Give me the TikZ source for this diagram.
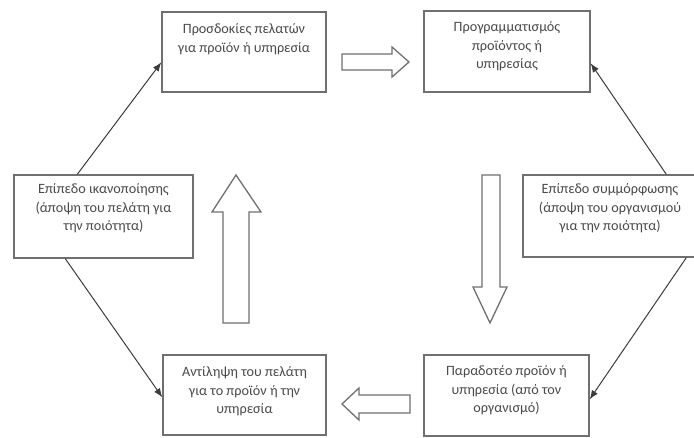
\documentclass[tikz,border=0pt]{standalone}
\usepackage{fontspec}
\setmainfont{Carlito}
\usetikzlibrary{arrows.meta,calc}
\definecolor{boxline}{HTML}{707070}
\definecolor{inktext}{HTML}{4A4A4A}
\definecolor{linkline}{HTML}{3C3C3C}
\tikzset{
  stagebox/.style={draw=boxline, line width=1.4pt, fill=white, inner sep=0pt},
  stagetext/.style={text=inktext, align=center, inner sep=0pt, anchor=north,
    font=\fontsize{14.2}{18.7}\selectfont},
  link/.style={draw=linkline, line width=1pt, -{Latex[length=9pt,width=7pt]}},
  bigarrow/.style={draw=boxline, line width=1.3pt, fill=white, line join=miter},
}
% a fixed first-line height so every caption starts at the same depth
\newcommand\capline{\vphantom{Άλ}}
\begin{document}
\begin{tikzpicture}[x=1pt,y=-1pt]
\useasboundingbox (0,0) rectangle (694,437);

% stage boxes
\node[stagebox, minimum width=164, minimum height=80] (tl) at (244,52) {};
\node[stagebox, minimum width=166, minimum height=81] (tr) at (507,51.5) {};
\node[stagebox, minimum width=179, minimum height=83] (ml) at (103.5,216.5) {};
\node[stagebox, minimum width=174, minimum height=82] (rm) at (610,216) {};
\node[stagebox, minimum width=163, minimum height=80] (bl) at (244.5,395) {};
\node[stagebox, minimum width=165, minimum height=81] (br) at (506.5,395.5) {};

% box captions, placed near the top edge of each box
\node[stagetext] (tl-t) at ($(tl.north)+(0,12)$) {\capline Προσδοκίες πελατών\\για προϊόν ή υπηρεσία};
\node[stagetext] (tr-t) at ($(tr.north)+(0,11)$) {\capline Προγραμματισμός\\προϊόντος ή\\υπηρεσίας};
\node[stagetext] (ml-t) at ($(ml.north)+(0,9)$) {\capline Επίπεδο ικανοποίησης\\(άποψη του πελάτη για\\την ποιότητα)};
\node[stagetext] (rm-t) at ($(rm.north)+(0,9)$) {\capline Επίπεδο συμμόρφωσης\\(άποψη του οργανισμού\\για την ποιότητα)};
\node[stagetext] (bl-t) at ($(bl.north)+(0,12)$) {\capline Αντίληψη του πελάτη\\για το προϊόν ή την\\υπηρεσία};
\node[stagetext] (br-t) at ($(br.north)+(0,11)$) {\capline Παραδοτέο προϊόν ή\\υπηρεσία (από τον\\οργανισμό)};

% thin connectors around the cycle
\draw[link] ($(ml.north west)+(64,0)$) -- ($(tl.north west)+(0,51)$);
\draw[link] ($(rm.north west)+(144,0)$) -- ($(tr.north east)+(0,53)$);
\draw[link] ($(rm.south west)+(164,0)$) -- ($(br.north east)+(0,45)$);
\draw[link] ($(ml.south west)+(52,0)$) -- ($(bl.north west)+(0,43)$);

% block arrows in the middle
\draw[bigarrow] (342,54) -- (392,54) -- (392,47) -- (409,62) -- (392,77) -- (392,70) -- (342,70) -- cycle;
\draw[bigarrow] (223,323) -- (223,212) -- (212,212) -- (236,175) -- (261,212) -- (249,212) -- (249,323) -- cycle;
\draw[bigarrow] (482,175) -- (500,175) -- (500,287) -- (507,287) -- (490,323) -- (473,287) -- (482,287) -- cycle;
\draw[bigarrow] (410,395) -- (359,395) -- (359,388) -- (342,404) -- (359,420) -- (359,413) -- (410,413) -- cycle;
\end{tikzpicture}
\end{document}
